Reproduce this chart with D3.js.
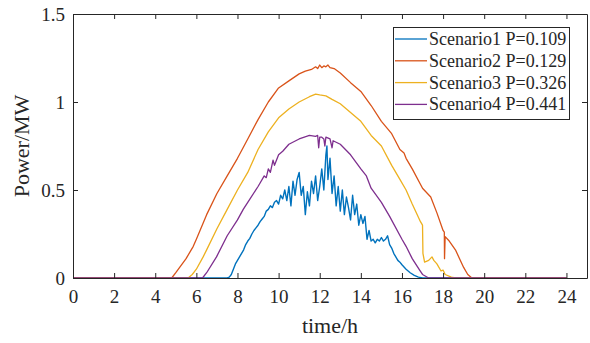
<!DOCTYPE html>
<html>
<head>
<meta charset="utf-8">
<script src="https://cdn.jsdelivr.net/npm/d3@7"></script>
</head>
<body style="margin:0; background:#fff">
<svg id="chart" width="590" height="343"></svg>
<script>
// Scenario 1 (blue) - noisy
const hours1 = [0, 7.5, 7.6, 7.7, 7.8, 7.9, 8.0, 8.1, 8.2, 8.3, 8.4, 8.5, 8.6, 8.7, 8.8, 8.9, 9.0, 9.1, 9.2, 9.3, 9.4, 9.5, 9.6, 9.7, 9.8, 9.9,
  10.0, 10.1, 10.2, 10.3, 10.4, 10.5, 10.6, 10.7, 10.8, 10.9, 11.0, 11.1, 11.2, 11.3, 11.4, 11.5, 11.6, 11.7, 11.8, 11.9,
  12.0, 12.1, 12.2, 12.3, 12.35, 12.4, 12.5, 12.6, 12.7, 12.8, 12.9, 13.0, 13.1, 13.2, 13.3, 13.4, 13.5, 13.6, 13.7, 13.8, 13.9,
  14.0, 14.1, 14.2, 14.3, 14.4, 14.5, 14.6, 14.7, 14.8, 14.9, 15.0, 15.1, 15.2, 15.3, 15.4, 15.5, 15.6, 15.7, 15.8, 15.9,
  16.0, 16.2, 16.4, 16.6, 16.8, 17.0, 24];
const power1 = [0, 0, 0.005, 0.02, 0.05, 0.08, 0.1, 0.12, 0.14, 0.16, 0.19, 0.21, 0.225, 0.25, 0.27, 0.285, 0.3, 0.32, 0.335, 0.35, 0.38, 0.39, 0.41, 0.40, 0.43, 0.44,
  0.42, 0.47, 0.45, 0.50, 0.44, 0.52, 0.41, 0.55, 0.47, 0.56, 0.60, 0.47, 0.52, 0.36, 0.49, 0.41, 0.55, 0.48, 0.58, 0.44,
  0.52, 0.62, 0.50, 0.70, 0.75, 0.56, 0.68, 0.48, 0.58, 0.41, 0.52, 0.38, 0.50, 0.36, 0.46, 0.40, 0.33, 0.47, 0.36, 0.42, 0.30,
  0.36, 0.31, 0.35, 0.22, 0.27, 0.21, 0.22, 0.20, 0.22, 0.21, 0.23, 0.21, 0.22, 0.24, 0.19, 0.17, 0.14, 0.12, 0.10, 0.09,
  0.075, 0.05, 0.03, 0.015, 0.005, 0, 0];

// Scenario 2 (orange)
const hours2 = [0, 4.8, 5.0, 5.5, 5.85, 6.0, 6.5, 7.0, 7.5, 8.0, 8.5, 9.0, 9.5, 10.0, 10.5, 11.0, 11.3, 11.6, 11.8, 11.9,
  12.0, 12.1, 12.2, 12.3, 12.4, 12.5, 12.7, 13.0, 13.5, 14.0, 14.5, 15.0, 15.5, 15.9, 16.1, 16.2, 16.5, 17.0, 17.4, 17.7,
  18.0, 18.06, 18.07, 18.1, 18.3, 18.6, 19.0, 19.2, 19.4, 24];
const power2 = [0, 0, 0.03, 0.11, 0.18, 0.22, 0.36, 0.48, 0.58, 0.68, 0.79, 0.9, 1.0, 1.08, 1.12, 1.16, 1.175, 1.185, 1.2, 1.19,
  1.21, 1.195, 1.205, 1.2, 1.21, 1.195, 1.19, 1.165, 1.11, 1.06, 0.98, 0.89, 0.82, 0.73, 0.71, 0.68, 0.62, 0.51, 0.46, 0.37,
  0.27, 0.26, 0.11, 0.235, 0.21, 0.16, 0.06, 0.02, 0, 0];

// Scenario 3 (yellow)
const hours3 = [0, 5.6, 5.8, 6.0, 6.33, 6.5, 7.0, 7.5, 8.0, 8.5, 9.0, 9.5, 10.0, 10.5, 11.0, 11.5, 11.8, 12.0, 12.3, 12.6,
  13.0, 13.5, 14.0, 14.5, 15.0, 15.5, 15.9, 16.2, 16.5, 16.9, 17.0, 17.02, 17.1, 17.3, 17.46, 17.55, 17.7, 17.9, 18.0, 18.1,
  18.4, 18.6, 24];
const power3 = [0, 0, 0.02, 0.05, 0.12, 0.16, 0.28, 0.39, 0.5, 0.6, 0.73, 0.83, 0.91, 0.96, 1.0, 1.03, 1.045, 1.04, 1.035, 1.015,
  0.99, 0.94, 0.89, 0.81, 0.75, 0.64, 0.56, 0.5, 0.42, 0.32, 0.3, 0.14, 0.09, 0.1, 0.12, 0.1, 0.08, 0.04, 0.045, 0.02,
  0.005, 0, 0];

// Scenario 4 (purple)
const hours4 = [0, 6.3, 6.5, 6.98, 7.5, 8.0, 8.28, 8.5, 9.0, 9.1, 9.3, 9.4, 9.5, 9.6, 9.73, 9.8, 10.0, 10.2, 10.5, 11.0, 11.5,
  11.8, 11.9, 11.95, 12.0, 12.1, 12.2, 12.25, 12.3, 12.5, 12.6, 12.65, 13.0, 13.5, 14.0, 14.27, 14.5, 15.0, 15.4, 16.0, 16.2,
  16.5, 16.86, 17.0, 17.3, 24];
const power4 = [0, 0, 0.03, 0.12, 0.24, 0.33, 0.39, 0.43, 0.52, 0.54, 0.58, 0.57, 0.62, 0.6, 0.67, 0.64, 0.7, 0.72, 0.76, 0.79, 0.81,
  0.805, 0.81, 0.74, 0.80, 0.8, 0.79, 0.75, 0.8, 0.79, 0.74, 0.78, 0.76, 0.70, 0.62, 0.58, 0.51, 0.43, 0.35, 0.22, 0.18,
  0.11, 0.045, 0.02, 0, 0];

const seriesNames = ["Scenario1 P=0.109", "Scenario2 P=0.129", "Scenario3 P=0.326", "Scenario4 P=0.441"];
const seriesColors = ["#0072BD", "#D95319", "#EDB120", "#7E2F8E"];
const xTicks = [0, 2, 4, 6, 8, 10, 12, 14, 16, 18, 20, 22, 24];
const yTicks = [0, 0.5, 1, 1.5];

const allHours = [hours1, hours2, hours3, hours4];
const allPower = [power1, power2, power3, power4];

const serif = "Liberation Serif";
const axisColor = "#262626";
const svg = d3.select("#chart");
const margin = { left: 73, right: 3, top: 14, bottom: 65 };
const W = 590, H = 343;
const x = d3.scaleLinear().domain([0, 25]).range([margin.left, W - margin.right]);
const y = d3.scaleLinear().domain([0, 1.5]).range([H - margin.bottom, margin.top]);

const line = d3.line().x(d => x(d[0])).y(d => y(d[1]));

const plot = svg.append("g");
allHours.forEach((hs, i) => {
  const pts = hs.map((h, j) => [h, allPower[i][j]]);
  plot.append("path")
    .datum(pts)
    .attr("d", line)
    .attr("fill", "none")
    .attr("stroke", seriesColors[i])
    .attr("stroke-width", i == 0 ? 1.4 : 1.3)
    .attr("stroke-linejoin", "round");
});

// axes, ticks inward like matlab
const axBottom = svg.append("g").attr("transform", `translate(0,${y(0)})`)
  .call(d3.axisBottom(x).tickValues(xTicks).tickSizeInner(-5).tickSizeOuter(0).tickPadding(12));
const axTop = svg.append("g").attr("transform", `translate(0,${y(1.5)})`)
  .call(d3.axisTop(x).tickValues(xTicks).tickSizeInner(-5).tickSizeOuter(0).tickFormat(""));
const axLeft = svg.append("g").attr("transform", `translate(${x(0)},0)`)
  .call(d3.axisLeft(y).tickValues(yTicks).tickSizeInner(-5).tickSizeOuter(0).tickPadding(8).tickFormat(d3.format("")));
const axRight = svg.append("g").attr("transform", `translate(${x(25)},0)`)
  .call(d3.axisRight(y).tickValues(yTicks).tickSizeInner(-5).tickSizeOuter(0).tickFormat(""));

[axBottom, axTop, axLeft, axRight].forEach(a => {
  a.attr("font-family", serif).attr("font-size", 19);
  a.selectAll("path").attr("stroke", axisColor).attr("stroke-width", 1);
  a.selectAll("line").attr("stroke", axisColor).attr("stroke-width", 1);
  a.selectAll("text").attr("fill", axisColor);
});

svg.append("text")
  .attr("x", (x(0) + x(25)) / 2).attr("y", 333)
  .attr("text-anchor", "middle")
  .attr("font-family", serif).attr("font-size", 22).attr("fill", axisColor)
  .text("time/h");

svg.append("text")
  .attr("transform", `translate(29,${(y(0) + y(1.5)) / 2}) rotate(-90)`)
  .attr("text-anchor", "middle")
  .attr("font-family", serif).attr("font-size", 22).attr("fill", axisColor)
  .text("Power/MW");

// legend
const lg = svg.append("g");
lg.append("rect")
  .attr("x", 393.5).attr("y", 27.5).attr("width", 176).attr("height", 92)
  .attr("fill", "#fff").attr("stroke", axisColor).attr("stroke-width", 1);
seriesNames.forEach((name, i) => {
  const cy = 39 + i * 21.8;
  lg.append("line").attr("x1", 395).attr("x2", 427).attr("y1", cy).attr("y2", cy)
    .attr("stroke", seriesColors[i]).attr("stroke-width", 1.3);
  lg.append("text").attr("x", 429).attr("y", cy + 6)
    .attr("font-family", serif).attr("font-size", 18).attr("fill", axisColor)
    .text(name);
});
</script>
</body>
</html>
